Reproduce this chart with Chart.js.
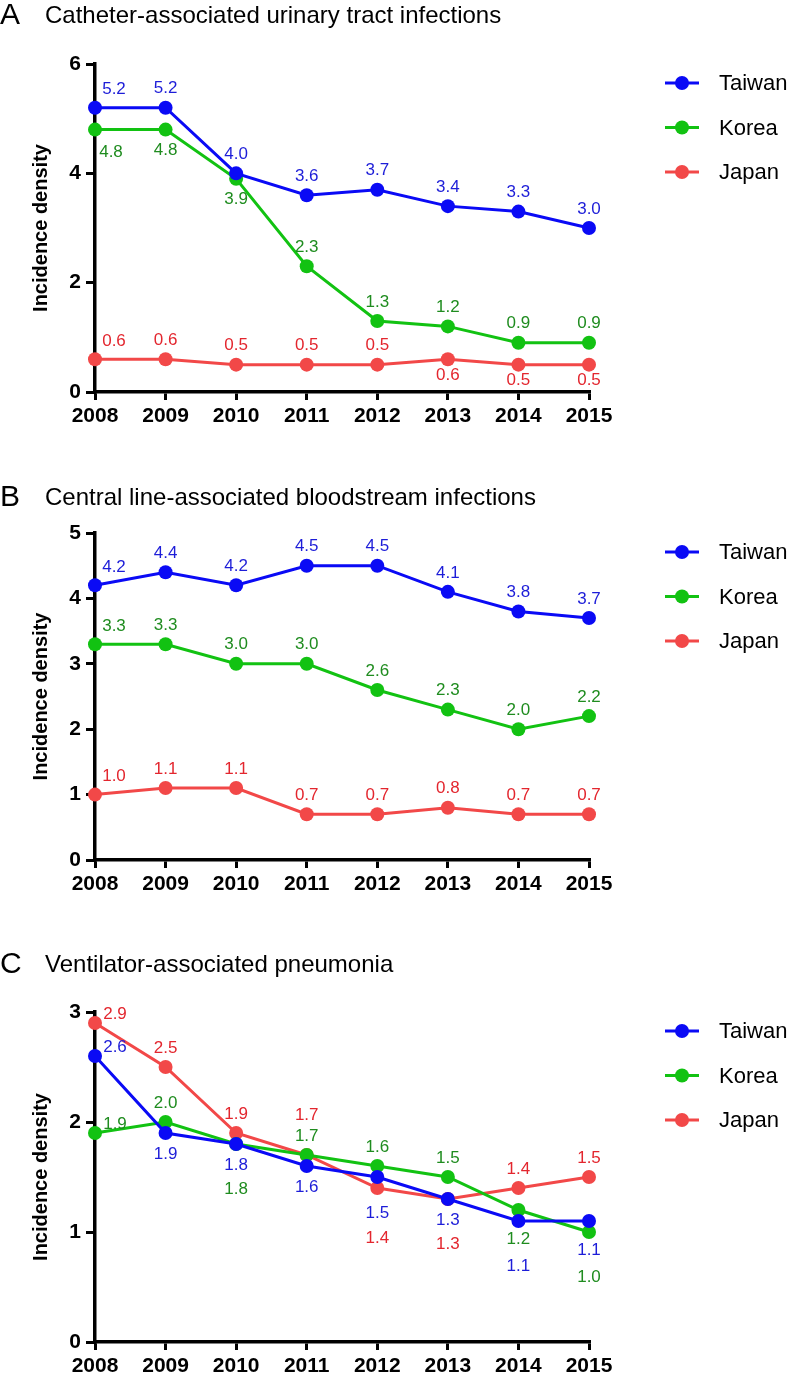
<!DOCTYPE html>
<html><head><meta charset="utf-8">
<script src="https://cdn.jsdelivr.net/npm/chart.js@4.4.1/dist/chart.umd.min.js"></script>
<style>
html,body{margin:0;padding:0;background:#fff;}
#wrap{position:relative;width:792px;height:1377px;overflow:hidden;}
canvas{position:absolute;left:0;}
</style></head><body>
<div id="wrap">
<canvas id="cA" width="792" height="440" style="top:0px"></canvas>
<canvas id="cB" width="792" height="440" style="top:470px"></canvas>
<canvas id="cC" width="792" height="437" style="top:940px"></canvas>
</div>
<script>
// ---------- data ----------
const years = ['2008','2009','2010','2011','2012','2013','2014','2015'];
const countries = ['Taiwan','Korea','Japan'];

// A: Catheter-associated urinary tract infections
const cautiTaiwan = [5.2,5.2,4.0,3.6,3.7,3.4,3.3,3.0];
const cautiKorea  = [4.8,4.8,3.9,2.3,1.3,1.2,0.9,0.9];
const cautiJapan  = [0.6,0.6,0.5,0.5,0.5,0.6,0.5,0.5];
const cautiTicks  = [0,2,4,6];

// B: Central line-associated bloodstream infections
const clabsiTaiwan = [4.2,4.4,4.2,4.5,4.5,4.1,3.8,3.7];
const clabsiKorea  = [3.3,3.3,3.0,3.0,2.6,2.3,2.0,2.2];
const clabsiJapan  = [1.0,1.1,1.1,0.7,0.7,0.8,0.7,0.7];
const clabsiTicks  = [0,1,2,3,4,5];

// C: Ventilator-associated pneumonia
const vapTaiwan = [2.6,1.9,1.8,1.6,1.5,1.3,1.1,1.1];
const vapKorea  = [1.9,2.0,1.8,1.7,1.6,1.5,1.2,1.0];
const vapJapan  = [2.9,2.5,1.9,1.7,1.4,1.3,1.4,1.5];
const vapTicks  = [0,1,2,3];

// value-label placement codes (a=above, b=below, r=right ...)
const cautiPlace = [
  ['ar','a','a','a','a','a','a','a'],
  ['br','b','b','a','a','a','a','a'],
  ['ar','a','a','a','a','bs','bs','bs']
];
const clabsiPlace = [
  ['ar','a','a','a','a','a','a','a'],
  ['ar','a','a','a','a','a','a','a'],
  ['ar','a','a','a','a','a','a','a']
];
const vapPlace = [
  ['r','b','b','b','bl','b','bb','bm'],
  ['r','a','bb','a','a','a','bm','bb'],
  ['r','a','a','aa','bx','bb','a','a']
];

// ---------- styling ----------
const FONT = '"Liberation Sans", Arial, Helvetica, sans-serif';
const lineColors  = ['#0a0af5', '#12c212', '#f24848'];
const labelColors = ['#1d1dd8', '#1f8c1f', '#e3262e'];
const OFFSETS = {
  a:[0,-19], aa:[0,-40], bs:[0,16], b:[0,21], bm:[0,29], bl:[0,36], bb:[0,45], bx:[0,50],
  ar:[19,-18], br:[16,23], r:[20,-9]
};

const decoPlugin = {
  id: 'deco',
  afterDatasetsDraw(chart, args, opts) {
    const ctx = chart.ctx;
    const ca = chart.chartArea;
    ctx.save();
    // value labels
    ctx.textAlign = 'center';
    ctx.textBaseline = 'middle';
    ctx.font = '17px ' + FONT;
    chart.data.datasets.forEach((ds, di) => {
      const meta = chart.getDatasetMeta(di);
      const place = opts.placements[di];
      ctx.fillStyle = labelColors[di];
      meta.data.forEach((pt, i) => {
        const off = OFFSETS[place[i]];
        ctx.fillText(ds.data[i].toFixed(1), pt.x + off[0], pt.y + off[1]);
      });
    });
    // legend
    chart.data.datasets.forEach((ds, di) => {
      const y = ca.top + 19 + di * 44.5;
      ctx.strokeStyle = lineColors[di];
      ctx.lineWidth = 3;
      ctx.beginPath(); ctx.moveTo(665, y); ctx.lineTo(699, y); ctx.stroke();
      ctx.fillStyle = lineColors[di];
      ctx.beginPath(); ctx.arc(682, y, 7, 0, Math.PI * 2); ctx.fill();
      ctx.fillStyle = '#000';
      ctx.textAlign = 'left';
      ctx.font = '22px ' + FONT;
      ctx.fillText(ds.label, 719, y + 1);
    });
    // panel title
    ctx.textAlign = 'left';
    ctx.textBaseline = 'middle';
    ctx.fillStyle = '#000';
    ctx.font = '30px ' + FONT;
    ctx.fillText(opts.letter, 0, opts.titleY);
    ctx.font = '24px ' + FONT;
    ctx.fillText(opts.title, 45, opts.titleY);
    ctx.restore();
  }
};

function makeChart(id, series, ticks, place, letter, title, titleY, top, bottom) {
  const el = document.getElementById(id);
  const H = el.height;
  return new Chart(el, {
    type: 'line',
    data: {
      labels: years,
      datasets: series.map((vals, i) => ({
        label: countries[i],
        data: vals,
        borderColor: lineColors[i],
        backgroundColor: lineColors[i],
        pointBackgroundColor: lineColors[i],
        pointBorderWidth: 0,
        pointRadius: 7,
        borderWidth: 3,
        tension: 0,
        clip: false
      }))
    },
    options: {
      responsive: false,
      animation: false,
      devicePixelRatio: 1,
      layout: { padding: { left: 0, top: top, right: 792 - 589, bottom: 0 } },
      plugins: {
        legend: { display: false },
        tooltip: { enabled: false },
        deco: { placements: place, letter: letter, title: title, titleY: titleY }
      },
      scales: {
        x: {
          type: 'category',
          offset: false,
          grid: { display: true, drawOnChartArea: false, drawTicks: true, tickLength: 8, lineWidth: 3, color: '#000' },
          border: { display: true, width: 3.5, color: '#000' },
          ticks: { color: '#000', padding: 4, maxRotation: 0, autoSkip: false,
                   font: { family: FONT, size: 21, weight: 'bold' } },
          afterFit(s) { s.height = H - bottom; }
        },
        y: {
          min: ticks[0],
          max: ticks[ticks.length - 1],
          afterBuildTicks(s) { s.ticks = ticks.map(v => ({ value: v })); },
          grid: { display: true, drawOnChartArea: false, drawTicks: true, tickLength: 9, lineWidth: 3, color: '#000' },
          border: { display: true, width: 3.5, color: '#000' },
          ticks: { color: '#000', padding: 5, font: { family: FONT, size: 21, weight: 'bold' } },
          title: { display: true, text: 'Incidence density', color: '#000',
                   font: { family: FONT, size: 20, weight: 'bold' }, padding: { top: 29, bottom: 0 } },
          afterFit(s) { s.width = 95; }
        }
      }
    },
    plugins: [decoPlugin]
  });
}

makeChart('cA', [cautiTaiwan, cautiKorea, cautiJapan], cautiTicks, cautiPlace,
  'A', 'Catheter-associated urinary tract infections', 16, 64, 392);
makeChart('cB', [clabsiTaiwan, clabsiKorea, clabsiJapan], clabsiTicks, clabsiPlace,
  'B', 'Central line-associated bloodstream infections', 28, 63, 390);
makeChart('cC', [vapTaiwan, vapKorea, vapJapan], vapTicks, vapPlace,
  'C', 'Ventilator-associated pneumonia', 25, 72, 402);
</script>
</body></html>
